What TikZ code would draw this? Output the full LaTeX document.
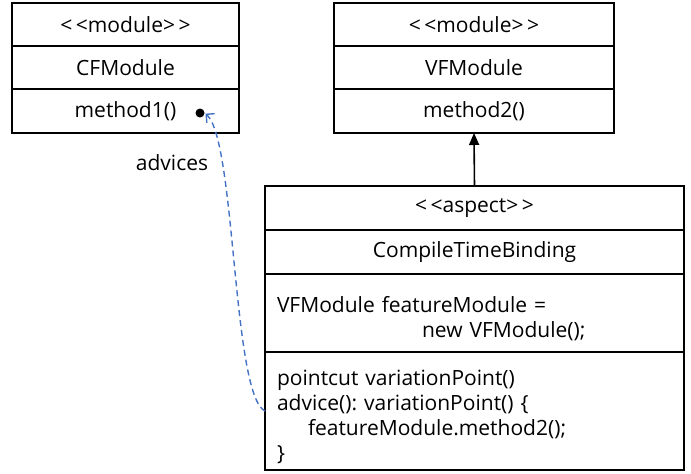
\documentclass[tikz,border=0pt]{standalone}
\usepackage{fontspec}
\setmainfont{Open Sans}
\usetikzlibrary{arrows.meta}
\frenchspacing
\definecolor{advblue}{RGB}{68,114,196}
\newcommand\stereo[1]{<\kern3.5pt<#1>\kern3.5pt>}
\newcommand\toppad{\rule{0pt}{28pt}}
\tikzset{
  umlrow/.style={draw, line width=1.6pt, minimum width=#1, inner sep=0pt, outer sep=0pt,
    anchor=north west, font=\fontsize{21}{25}\selectfont},
  advline/.style={draw=advblue, line width=1.4pt, dash pattern=on 6pt off 4pt,
    -{Straight Barb[length=6pt,width=12pt,line width=1.4pt]}, shorten >=1pt},
}
\begin{document}
\begin{tikzpicture}[x=1pt,y=-1pt]
  \useasboundingbox (0,0) rectangle (691,474);
  % left module
  \node[umlrow=227pt, minimum height=43pt] (cf1) at (12,3) {\stereo{module}};
  \node[umlrow=227pt, minimum height=43pt] (cf2) at (cf1.south west) {CFModule};
  \node[umlrow=227pt, minimum height=44pt] (cf3) at (cf2.south west) {method1()};
  % right module
  \node[umlrow=280pt, minimum height=43pt] (vf1) at (334,3) {\stereo{module}};
  \node[umlrow=280pt, minimum height=43pt] (vf2) at (vf1.south west) {VFModule};
  \node[umlrow=280pt, minimum height=44pt] (vf3) at (vf2.south west) {method2()};
  % aspect
  \node[umlrow=419pt, minimum height=44pt] (asp1) at (265,186) {\stereo{aspect}};
  \node[umlrow=419pt, minimum height=44pt] (asp2) at (asp1.south west) {CompileTimeBinding};
  \node[umlrow=419pt, minimum height=78pt, align=left, text width=395pt] (asp3) at (asp2.south west)
    {\toppad VFModule featureModule =\\\hspace*{145pt}new VFModule();};
  \node[umlrow=419pt, minimum height=118pt, align=left, text width=395pt] (asp4) at (asp3.south west)
    {\toppad pointcut variationPoint()\\advice(): variationPoint() \{\\\hspace*{31pt}featureModule.method2();\\\}};
  \draw[line width=1.6pt, -{Triangle[length=12pt,width=10pt]}] (asp1.north) -- (vf3.south);
  % advice link
  \node[circle, fill, inner sep=0pt, minimum size=9pt] (joinpt) at (200,113) {};
  \draw[advline] (asp4.west) .. controls (232,395) and (236,140) .. (joinpt.east);
  \node[font=\fontsize{21}{25}\selectfont] (advlbl) at (172,163) {advices};
\end{tikzpicture}
\end{document}
